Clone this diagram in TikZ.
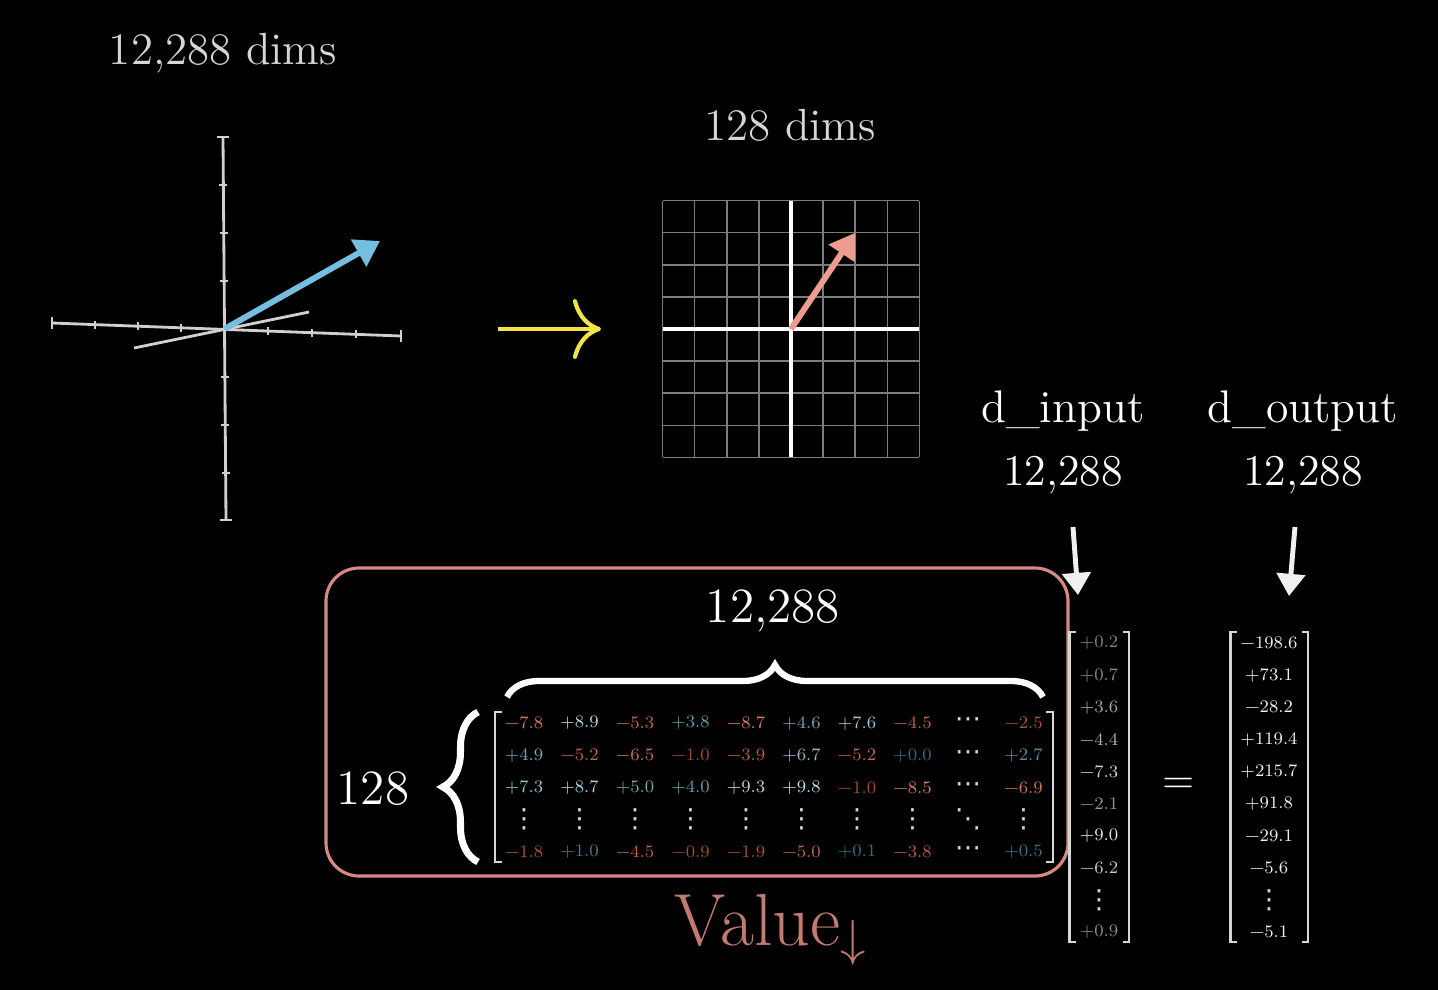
\documentclass[tikz,border=0pt]{standalone}
\usepackage{fontspec}
\usetikzlibrary{arrows.meta,decorations.pathreplacing,positioning}
\newfontfamily\dotsfont{DejaVu Sans}

\definecolor{axisc}{HTML}{D0D0D0}
\definecolor{gridc}{HTML}{7C7C7C}
\definecolor{bluev}{HTML}{74BFDF}
\definecolor{salmonv}{HTML}{EE9C8E}
\definecolor{yellowa}{HTML}{F2E34A}
\definecolor{framec}{HTML}{D58A82}
\definecolor{valuec}{HTML}{C27B72}
\definecolor{labelc}{HTML}{D6D6D6}
\definecolor{posLo}{HTML}{2E6E80}
\definecolor{posHi}{HTML}{BFE2EC}
\definecolor{negLo}{HTML}{9A4434}
\definecolor{negHi}{HTML}{E6846E}
\definecolor{grayLo}{HTML}{808080}
\definecolor{grayHi}{HTML}{F0F0F0}
\definecolor{whtLo}{HTML}{F0F0F0}
\definecolor{whtHi}{HTML}{F0F0F0}

% sign, magnitude, scheme for +, scheme for -
\newcommand{\mcell}[4]{%
  \if#1c{\dotsfont ⋯}\else\if#1v{\dotsfont ⋮}\else\if#1d{\dotsfont ⋱}\else
  \pgfmathsetmacro\mshade{min(100,10*#2)}%
  \if#1n\color{#4Hi!\mshade!#4Lo}\scalebox{0.625}{\fontsize{8}{10}\selectfont −#2}%
  \else\color{#3Hi!\mshade!#3Lo}\scalebox{0.625}{\fontsize{8}{10}\selectfont +#2}\fi
  \fi\fi\fi}

\begin{document}
\begin{tikzpicture}[x=0.01cm,y=-0.01cm,
    lbl/.style={text=labelc,font=\fontsize{12.8}{15}\selectfont},
    big/.style={text=white,font=\fontsize{14}{17}\selectfont},
    ent/.style={inner sep=0pt,text=labelc,font=\fontsize{7.5}{9}\selectfont},
    ax/.style={draw=axisc,line width=0.8pt},
    vec/.style={line width=1.7pt,-{Triangle[length=7pt,width=8.5pt]}},
    darr/.style={draw=grayHi,line width=1.4pt,-{Triangle[length=6.3pt,width=8pt,fill=grayHi]}},
    brk/.style={draw=labelc,line width=0.6pt}
    ]

    \fill[black] (0,0) rectangle (1438,990);

    % 3d axes
    \node[lbl] (dimsbig) at (223,53) {12,288 dims};
    \coordinate (o3) at (224.5,329);
    \coordinate (bluetip) at (380,241);
    \draw[ax] (52,323) -- (401,336);
    \draw[ax] (223,137) -- (226,520);
    \draw[ax] (134,348) -- (309,312);
    \foreach \tx in {95,138,181,268,312,356}
        \draw[ax] (\tx,{323+0.0373*(\tx-52)-4}) -- ++(0,8);
    \foreach \ty in {185,233,281,377,425,473}
        \draw[ax] ({223+0.0078*(\ty-137)-4},\ty) -- ++(8,0);
    \draw[ax] (52,317) -- (52,329);
    \draw[ax] (401,330) -- (401,342);
    \draw[ax] (217,137) -- (229,137);
    \draw[ax] (220,520) -- (232,520);
    \draw[vec,bluev] (o3) -- (bluetip);

    % map arrow
    \coordinate (ya) at (498,329);
    \coordinate (yb) at (601,329);
    \draw[yellowa,line width=1.2pt,-{Computer Modern Rightarrow[length=8pt,width=17pt]}] (ya) -- (yb);

    % 2d grid
    \node[lbl] (dimssmall) at (790,125) {128 dims};
    \foreach \i in {0,...,8} {
        \draw[gridc,line width=0.4pt] ({662.7+32.08*\i},200.7) -- ++(0,256.6);
        \draw[gridc,line width=0.4pt] (662.7,{200.7+32.08*\i}) -- ++(256.6,0);
    }
    \coordinate (go) at (791,329);
    \coordinate (salmontip) at (855.2,232.8);
    \draw[white,line width=0.9pt] (791,200.7) -- (791,457.3);
    \draw[white,line width=0.9pt] (662.7,329) -- (919.3,329);
    \draw[vec,salmonv] (go) -- (salmontip);

    % sizes
    \node[big,anchor=base,font=\fontsize{13}{15}\selectfont] (din) at (1063,422) {d\_input};
    \node[big,anchor=base,font=\fontsize{12.5}{15}\selectfont] (nin) at (1063,485) {12,288};
    \node[big,anchor=base,font=\fontsize{13}{15}\selectfont] (dout) at (1303,422) {d\_output};
    \node[big,anchor=base,font=\fontsize{12.5}{15}\selectfont] (nout) at (1303,485) {12,288};
    \coordinate (ain) at (1073,527);
    \coordinate (bin) at (1078,595);
    \coordinate (aout) at (1295,527);
    \coordinate (bout) at (1289,596);
    \draw[darr] (ain) -- (bin);
    \draw[darr] (aout) -- (bout);

    % value matrix
    \draw[framec,line width=0.9pt,rounded corners=0.33cm] (326,568) rectangle (1068,876);
    \node[big,anchor=base] (ncols) at (773,622) {12,288};
    \node[big,anchor=base] (nrows) at (373,804) {128};
    \draw[white,line width=1.8pt,decorate,decoration={brace,amplitude=0.32cm}] (507,697) -- (1043,697);
    \draw[white,line width=2pt,decorate,decoration={brace,amplitude=0.35cm}] (478,862) -- (478,712);
    \draw[brk] (502,712) -- (495,712) -- (495,862) -- (502,862);
    \draw[brk] (1046,712) -- (1053,712) -- (1053,862) -- (1046,862);
    \foreach \rowlist [count=\ri] in {
        {n/7.8,p/8.9,n/5.3,p/3.8,n/8.7,p/4.6,p/7.6,n/4.5,c/0,n/2.5},
        {p/4.9,n/5.2,n/6.5,n/1.0,n/3.9,p/6.7,n/5.2,p/0.0,c/0,p/2.7},
        {p/7.3,p/8.7,p/5.0,p/4.0,p/9.3,p/9.8,n/1.0,n/8.5,c/0,n/6.9},
        {v/0,v/0,v/0,v/0,v/0,v/0,v/0,v/0,d/0,v/0},
        {n/1.8,p/1.0,n/4.5,n/0.9,n/1.9,n/5.0,p/0.1,n/3.8,c/0,p/0.5}}
        \foreach \sg/\mg [count=\ci] in \rowlist
            \node[ent] (m-\ri-\ci) at ({524+55.5*(\ci-1)},{723+32.2*(\ri-1)}) {\mcell{\sg}{\mg}{pos}{neg}};
    \node[text=valuec,anchor=base,font=\fontsize{21}{25}\selectfont] (vname) at (771,945) {Value$_{\downarrow}$};

    % input and output vectors
    \draw[brk] (1076,632) -- (1069.5,632) -- (1069.5,942) -- (1076,942);
    \draw[brk] (1122.5,632) -- (1129,632) -- (1129,942) -- (1122.5,942);
    \draw[brk] (1237,632) -- (1230.5,632) -- (1230.5,942) -- (1237,942);
    \draw[brk] (1301.5,632) -- (1308,632) -- (1308,942) -- (1301.5,942);
    \foreach \sg/\mg [count=\i] in {p/0.2,p/0.7,p/3.6,n/4.4,n/7.3,n/2.1,p/9.0,n/6.2,v/0,p/0.9}
        \node[ent] (x-\i) at (1099,{643+32.1*(\i-1)}) {\mcell{\sg}{\mg}{gray}{gray}};
    \foreach \sg/\mg [count=\i] in {n/198.6,p/73.1,n/28.2,p/119.4,p/215.7,p/91.8,n/29.1,n/5.6,v/0,n/5.1}
        \node[ent] (y-\i) at (1269,{643+32.1*(\i-1)}) {\mcell{\sg}{\mg}{wht}{wht}};
    \node[text=white,font=\fontsize{12}{14}\selectfont] (eq) at (1179,786) {=};
\end{tikzpicture}
\end{document}
